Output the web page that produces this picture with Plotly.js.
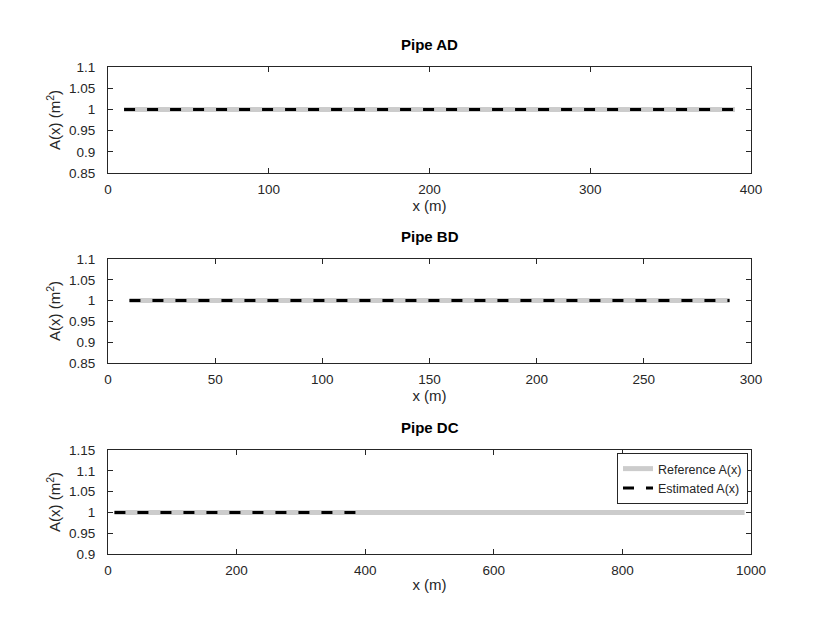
<!DOCTYPE html>
<html>
<head>
<meta charset="utf-8">
<script src="https://cdn.plot.ly/plotly-3.0.1.min.js"></script>
<style>
  html, body { margin: 0; padding: 0; background: #fff; }
  #plot { width: 830px; height: 623px; }
</style>
</head>
<body>
<div id="plot"></div>
<script>
// pipe data: x positions (m) and area values (m^2)
const pipeNames = ["Pipe AD", "Pipe BD", "Pipe DC"];

const refX_AD = [10, 390];
const refA_AD = [1, 1];
const estX_AD = [10, 390];
const estA_AD = [1, 1];

const refX_BD = [10, 290];
const refA_BD = [1, 1];
const estX_BD = [10, 290];
const estA_BD = [1, 1];

const refX_DC = [10, 990];
const refA_DC = [1, 1];
const estX_DC = [10, 390];
const estA_DC = [1, 1];

const xRanges = [[0, 400], [0, 300], [0, 1000]];
const xSteps = [100, 50, 200];
const yRanges = [[0.85, 1.1], [0.85, 1.1], [0.9, 1.15]];

const W = 830, H = 623;
const font = "Liberation Sans, Arial, sans-serif";
const ink = "#262626";

// pixel boxes of each panel (top, bottom)
const boxes = [[67, 173], [259, 363], [450, 554]];
const titleY = [44, 236, 427];
const left = 108, right = 751;

const refStyle = { color: "#cccccc", width: 5 };
const estStyle = { color: "#000000", width: 3, dash: "11px,12px" };

let traces = [
  { x: refX_AD, y: refA_AD, xaxis: "x", yaxis: "y", mode: "lines", line: refStyle, name: "Reference A(x)", showlegend: false },
  { x: estX_AD, y: estA_AD, xaxis: "x", yaxis: "y", mode: "lines", line: estStyle, name: "Estimated A(x)", showlegend: false },
  { x: refX_BD, y: refA_BD, xaxis: "x2", yaxis: "y2", mode: "lines", line: refStyle, name: "Reference A(x)", showlegend: false },
  { x: estX_BD, y: estA_BD, xaxis: "x2", yaxis: "y2", mode: "lines", line: estStyle, name: "Estimated A(x)", showlegend: false },
  { x: refX_DC, y: refA_DC, xaxis: "x3", yaxis: "y3", mode: "lines", line: refStyle, name: "Reference A(x)" },
  { x: estX_DC, y: estA_DC, xaxis: "x3", yaxis: "y3", mode: "lines", line: estStyle, name: "Estimated A(x)" }
];

let layout = {
  width: W, height: H,
  margin: { l: 0, r: 0, t: 0, b: 0 },
  paper_bgcolor: "#fff", plot_bgcolor: "#fff",
  font: { family: font, size: 13, color: ink },
  showlegend: true,
  legend: {
    x: 748 / W, xanchor: "right", y: 1 - 453 / H, yanchor: "top",
    bgcolor: "#fff", bordercolor: ink, borderwidth: 1,
    font: { family: font, size: 12.5, color: ink },
    tracegroupgap: 0
  },
  annotations: []
};

for (let i = 0; i < 3; i++) {
  let sx = i === 0 ? "" : String(i + 1);
  let [top, bot] = boxes[i];
  layout["xaxis" + sx] = {
    domain: [left / W, right / W],
    anchor: "y" + sx,
    range: xRanges[i], dtick: xSteps[i], tick0: 0,
    showgrid: false, zeroline: false,
    showline: true, linecolor: ink, linewidth: 1, mirror: "ticks",
    ticks: "inside", ticklen: 5, tickcolor: ink, ticklabelstandoff: 4,
    tickfont: { family: font, size: 13.5, color: ink },
    title: { text: "x (m)", standoff: 2, font: { family: font, size: 15, color: ink } }
  };
  layout["yaxis" + sx] = {
    domain: [1 - bot / H, 1 - top / H],
    anchor: "x" + sx,
    range: yRanges[i], dtick: 0.05, tick0: 0,
    showgrid: false, zeroline: false,
    showline: true, linecolor: ink, linewidth: 1, mirror: "ticks",
    ticks: "inside", ticklen: 5, tickcolor: ink, ticklabelstandoff: 9,
    tickfont: { family: font, size: 13.5, color: ink },
    title: { text: "A(x) (m<sup>2</sup>)", standoff: 4, font: { family: font, size: 15, color: ink } }
  };
  layout.annotations.push({
    text: "<b>" + pipeNames[i] + "</b>",
    xref: "paper", yref: "paper",
    x: (left + right) / 2 / W, y: 1 - titleY[i] / H,
    xanchor: "center", yanchor: "middle", showarrow: false,
    font: { family: font, size: 15, color: "#000" }
  });
}

Plotly.newPlot("plot", traces, layout, { displayModeBar: false, staticPlot: true });
</script>
</body>
</html>
